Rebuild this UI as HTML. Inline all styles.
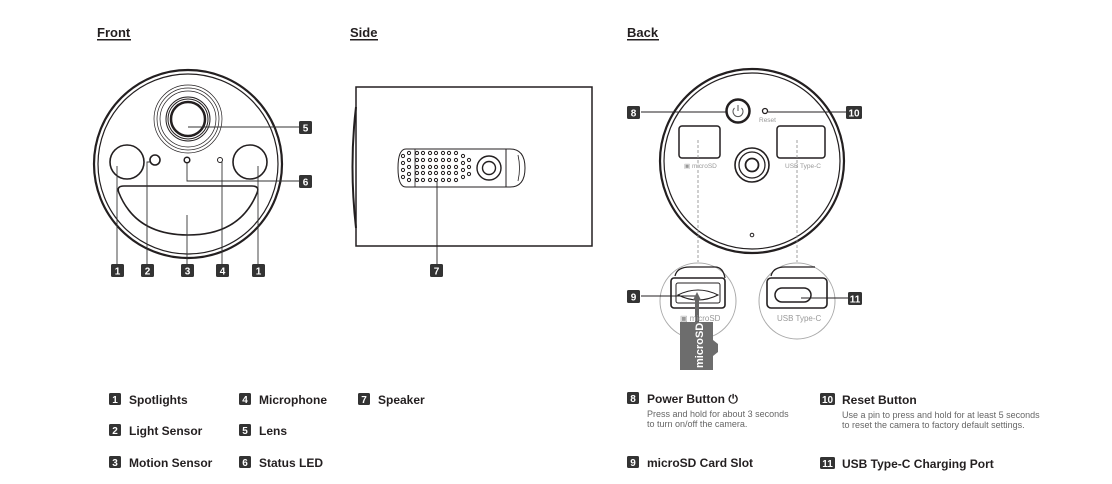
<!DOCTYPE html>
<html><head><meta charset="utf-8"><style>
html,body{margin:0;padding:0;background:#fff}
svg{display:block}
text{font-family:"Liberation Sans",sans-serif}
.b{font-weight:bold;font-size:12px;fill:#231f20}
.h{font-weight:bold;font-size:13px;fill:#231f20}
.n{font-weight:bold;font-size:10px;fill:#fff}
.d{font-size:9px;fill:#666}
</style></head><body>
<svg width="1112" height="484" viewBox="0 0 1112 484" xmlns="http://www.w3.org/2000/svg">
<defs>
<clipPath id="spk"><path d="M410,150 L480,150 L480,186 L410,186 Q398,186 398,168 Q398,150 410,150Z"/></clipPath>
</defs>
<g>
<text x="97" y="37" class="h">Front</text><rect x="97" y="39" width="34" height="1.5" fill="#231f20"/>
<text x="350" y="37" class="h">Side</text><rect x="350" y="39" width="28" height="1.5" fill="#231f20"/>
<text x="627" y="37" class="h">Back</text><rect x="627" y="39" width="32" height="1.5" fill="#231f20"/>
</g>
<!-- FRONT -->
<g fill="none" stroke="#231f20">
<circle cx="188" cy="164" r="94" stroke-width="2.2"/>
<circle cx="188" cy="164" r="90" stroke-width="1.2"/>
<circle cx="188" cy="119" r="34" stroke-width="0.7"/>
<circle cx="188" cy="119" r="31" stroke-width="0.7"/>
<circle cx="188" cy="119" r="28" stroke-width="0.7"/>
<circle cx="188" cy="119" r="22" stroke-width="1"/>
<circle cx="188" cy="119" r="20" stroke-width="1"/>
<circle cx="188" cy="119" r="17" stroke-width="2.5"/>
<circle cx="127" cy="162" r="17" stroke-width="1.6"/>
<circle cx="250" cy="162" r="17" stroke-width="1.6"/>
<circle cx="155" cy="160" r="5" stroke-width="1.6"/>
<circle cx="187" cy="160" r="2.8" stroke-width="1.5"/>
<circle cx="220" cy="160" r="2.5" stroke-width="1"/>
<path d="M124,186 L252,186 Q260,186 257,193 Q240,235 188,235 Q136,235 119,193 Q116,186 124,186Z" stroke-width="1.6"/>
<g stroke-width="0.9" stroke="#333">
<path d="M117,166 V264"/><path d="M150,162 H147 V264"/><path d="M187,215 V264"/><path d="M222,161 V264"/><path d="M258,166 V264"/>
<path d="M188,127 H299"/><path d="M187,163 V181 H299"/>
</g>
</g>
<g>
<rect x="111" y="264" width="13" height="13" rx="1.5" fill="#333"/><text x="117.5" y="274.5" class="n" text-anchor="middle">1</text>
<rect x="141" y="264" width="13" height="13" rx="1.5" fill="#333"/><text x="147.5" y="274.5" class="n" text-anchor="middle">2</text>
<rect x="181" y="264" width="13" height="13" rx="1.5" fill="#333"/><text x="187.5" y="274.5" class="n" text-anchor="middle">3</text>
<rect x="216" y="264" width="13" height="13" rx="1.5" fill="#333"/><text x="222.5" y="274.5" class="n" text-anchor="middle">4</text>
<rect x="252" y="264" width="13" height="13" rx="1.5" fill="#333"/><text x="258.5" y="274.5" class="n" text-anchor="middle">1</text>
<rect x="299" y="121" width="13" height="13" rx="1.5" fill="#333"/><text x="305.5" y="131.5" class="n" text-anchor="middle">5</text>
<rect x="299" y="175" width="13" height="13" rx="1.5" fill="#333"/><text x="305.5" y="185.5" class="n" text-anchor="middle">6</text>
</g>
<!-- SIDE -->
<g fill="none" stroke="#231f20">
<rect x="356" y="87" width="236" height="159" stroke-width="1.5"/>
<path d="M356,107 Q349,166 356,228" stroke-width="2"/>
<path d="M406,149 L510,149 Q525,149 525,168 Q525,187 510,187 L406,187 Q398,187 398,168 Q398,149 406,149Z" stroke-width="1"/>
<path d="M506,149 V187"/><path d="M518,155 Q521,168 518,181" stroke-width="0.8"/>
<path d="M415,149 V187" stroke-width="0.8"/>
<circle cx="489" cy="168" r="12" stroke-width="1.4"/>
<circle cx="489" cy="168" r="6.5" stroke-width="1.4"/>
<g clip-path="url(#spk)" stroke-width="1" fill="#fff">
<circle cx="403" cy="156" r="1.6"/><circle cx="403" cy="163" r="1.6"/><circle cx="403" cy="170" r="1.6"/><circle cx="403" cy="177" r="1.6"/>
<circle cx="409" cy="153" r="1.6"/><circle cx="409" cy="160" r="1.6"/><circle cx="409" cy="167" r="1.6"/><circle cx="409" cy="174" r="1.6"/><circle cx="409" cy="180" r="1.6"/>
</g>
<g stroke-width="1" fill="#fff">
<circle cx="417" cy="153" r="1.6"/><circle cx="417" cy="160" r="1.6"/><circle cx="417" cy="167" r="1.6"/><circle cx="417" cy="173" r="1.6"/><circle cx="417" cy="180" r="1.6"/>
<circle cx="423" cy="153" r="1.6"/><circle cx="423" cy="160" r="1.6"/><circle cx="423" cy="167" r="1.6"/><circle cx="423" cy="173" r="1.6"/><circle cx="423" cy="180" r="1.6"/>
<circle cx="430" cy="153" r="1.6"/><circle cx="430" cy="160" r="1.6"/><circle cx="430" cy="167" r="1.6"/><circle cx="430" cy="173" r="1.6"/><circle cx="430" cy="180" r="1.6"/>
<circle cx="436" cy="153" r="1.6"/><circle cx="436" cy="160" r="1.6"/><circle cx="436" cy="167" r="1.6"/><circle cx="436" cy="173" r="1.6"/><circle cx="436" cy="180" r="1.6"/>
<circle cx="443" cy="153" r="1.6"/><circle cx="443" cy="160" r="1.6"/><circle cx="443" cy="167" r="1.6"/><circle cx="443" cy="173" r="1.6"/><circle cx="443" cy="180" r="1.6"/>
<circle cx="449" cy="153" r="1.6"/><circle cx="449" cy="160" r="1.6"/><circle cx="449" cy="167" r="1.6"/><circle cx="449" cy="173" r="1.6"/><circle cx="449" cy="180" r="1.6"/>
<circle cx="456" cy="153" r="1.6"/><circle cx="456" cy="160" r="1.6"/><circle cx="456" cy="167" r="1.6"/><circle cx="456" cy="173" r="1.6"/><circle cx="456" cy="180" r="1.6"/>
<circle cx="463" cy="156" r="1.6"/><circle cx="463" cy="163" r="1.6"/><circle cx="463" cy="170" r="1.6"/><circle cx="463" cy="177" r="1.6"/>
<circle cx="469" cy="160" r="1.6"/><circle cx="469" cy="167" r="1.6"/><circle cx="469" cy="174" r="1.6"/>
</g>
<path d="M437,181 V264" stroke-width="0.9"/>
</g>
<rect x="430" y="264" width="13" height="13" rx="1.5" fill="#333"/><text x="436.5" y="274.5" class="n" text-anchor="middle">7</text>
<!-- BACK -->
<g fill="none" stroke="#231f20">
<circle cx="752" cy="161" r="92" stroke-width="2.2"/>
<circle cx="752" cy="161" r="88" stroke-width="1.2"/>
<circle cx="738" cy="111" r="11.5" stroke-width="2.5"/>
<path d="M734.5,108 A5,5 0 1 0 741.5,108 M738,105 V111" stroke-width="1" stroke="#555"/>
<circle cx="765" cy="111" r="2.5" stroke-width="1.3"/>
<rect x="679" y="126" width="41" height="32" rx="3" stroke-width="1.5"/>
<rect x="777" y="126" width="48" height="32" rx="3" stroke-width="1.5"/>
<circle cx="752" cy="165" r="17" stroke-width="1.6"/>
<circle cx="752" cy="165" r="13" stroke-width="1.3"/>
<circle cx="752" cy="165" r="6.5" stroke-width="1.8"/>
<circle cx="752" cy="235" r="1.8" stroke-width="1"/>
<path d="M698,140 V262 M797,140 V262" stroke="#888" stroke-width="0.8" stroke-dasharray="3,2"/>
<path d="M641,112 H726 M768,112 H848" stroke-width="0.9"/>
<circle cx="698" cy="301" r="38" stroke="#aaa" stroke-width="1"/>
<circle cx="797" cy="301" r="38" stroke="#aaa" stroke-width="1"/>
<path d="M675,276 Q677,267 690,267 L715,267 Q723,267 725,278" stroke-width="1.3"/>
<rect x="671" y="278" width="54" height="30" rx="3" stroke-width="1.6"/>
<rect x="676" y="283" width="44" height="20" rx="2" stroke-width="1"/>
<path d="M678,295 Q698,285 718,295 Q698,305 678,295Z" stroke-width="1"/>
<path d="M771,276 Q773,267 785,267 L815,267" stroke-width="1.3"/>
<rect x="767" y="278" width="60" height="30" rx="4" stroke-width="1.6"/>
<rect x="775" y="288" width="36" height="14" rx="7" stroke-width="1.5"/>
<path d="M641,296 H698 M801,298 H848" stroke-width="0.9"/>
</g>
<path d="M697,292 L701,300 H699 V322 H695 V300 H693Z" fill="#666"/>
<path d="M680,322 H713 V340 L718,344 V352 L713,356 V370 H680Z" fill="#6d6d6d"/>
<text transform="translate(703,368) rotate(-90)" font-size="11" font-weight="bold" fill="#fff">microSD</text>
<g font-size="6.5" fill="#999">
<text x="759" y="122">Reset</text>
<text x="684" y="168">▣ microSD</text>
<text x="785" y="168">USB Type-C</text>
<text x="680" y="321" font-size="8">▣ microSD</text>
<text x="777" y="321" font-size="8">USB Type-C</text>
</g>
<g>
<rect x="627" y="106" width="13" height="13" rx="1.5" fill="#333"/><text x="633.5" y="116.5" class="n" text-anchor="middle">8</text>
<rect x="846" y="106" width="16" height="13" rx="1.5" fill="#333"/><text x="854" y="116.5" class="n" text-anchor="middle">10</text>
<rect x="627" y="290" width="13" height="13" rx="1.5" fill="#333"/><text x="633.5" y="300.5" class="n" text-anchor="middle">9</text>
<rect x="848" y="292" width="14" height="13" rx="1.5" fill="#333"/><text x="855" y="302.5" class="n" text-anchor="middle">11</text>
</g>
<!-- LEGEND -->
<g>
<rect x="109" y="393" width="12" height="12" rx="1.5" fill="#333"/><text x="115" y="403" class="n" text-anchor="middle">1</text><text x="129" y="404" class="b">Spotlights</text>
<rect x="109" y="424" width="12" height="12" rx="1.5" fill="#333"/><text x="115" y="434" class="n" text-anchor="middle">2</text><text x="129" y="435" class="b">Light Sensor</text>
<rect x="109" y="456" width="12" height="12" rx="1.5" fill="#333"/><text x="115" y="466" class="n" text-anchor="middle">3</text><text x="129" y="467" class="b">Motion Sensor</text>
<rect x="239" y="393" width="12" height="12" rx="1.5" fill="#333"/><text x="245" y="403" class="n" text-anchor="middle">4</text><text x="259" y="404" class="b">Microphone</text>
<rect x="239" y="424" width="12" height="12" rx="1.5" fill="#333"/><text x="245" y="434" class="n" text-anchor="middle">5</text><text x="259" y="435" class="b">Lens</text>
<rect x="239" y="456" width="12" height="12" rx="1.5" fill="#333"/><text x="245" y="466" class="n" text-anchor="middle">6</text><text x="259" y="467" class="b">Status LED</text>
<rect x="358" y="393" width="12" height="12" rx="1.5" fill="#333"/><text x="364" y="403" class="n" text-anchor="middle">7</text><text x="378" y="404" class="b">Speaker</text>
<rect x="627" y="392" width="12" height="12" rx="1.5" fill="#333"/><text x="633" y="402" class="n" text-anchor="middle">8</text><text x="647" y="403" class="b">Power Button ⏻</text>
<text x="647" y="417" class="d">Press and hold for about 3 seconds</text>
<text x="647" y="427" class="d">to turn on/off the camera.</text>
<rect x="820" y="393" width="15" height="12" rx="1.5" fill="#333"/><text x="827.5" y="403" class="n" text-anchor="middle">10</text><text x="842" y="404" class="b">Reset Button</text>
<text x="842" y="418" class="d">Use a pin to press and hold for at least 5 seconds</text>
<text x="842" y="428" class="d">to reset the camera to factory default settings.</text>
<rect x="627" y="456" width="12" height="12" rx="1.5" fill="#333"/><text x="633" y="466" class="n" text-anchor="middle">9</text><text x="647" y="467" class="b">microSD Card Slot</text>
<rect x="820" y="457" width="15" height="12" rx="1.5" fill="#333"/><text x="827.5" y="467" class="n" text-anchor="middle">11</text><text x="842" y="468" class="b">USB Type-C Charging Port</text>
</g>
</svg>
</body></html>
